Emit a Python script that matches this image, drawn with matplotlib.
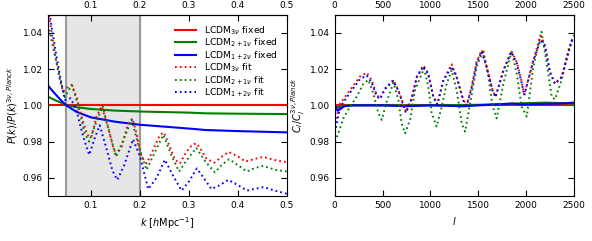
import numpy as np
import matplotlib.pyplot as plt

# --- linkes Panel: P(k) Verhaeltnis ---
k_fix_gruen = [0.012, 0.03, 0.05, 0.07, 0.1, 0.149, 0.2, 0.3, 0.334, 0.4, 0.5]
pk_fix_gruen = [1.0048, 1.0025, 1.0003, 0.999, 0.998, 0.9971, 0.9966, 0.996, 0.9956, 0.9954, 0.9952]
k_fix_blau = [0.012, 0.02, 0.03, 0.04, 0.05, 0.07, 0.1, 0.149, 0.2, 0.3, 0.334, 0.4, 0.5]
pk_fix_blau = [1.0112, 1.0085, 1.0055, 1.0025, 1.0, 0.9965, 0.9934, 0.991, 0.9893, 0.9872, 0.9864, 0.9858, 0.9851]

k_fit_rot = [0.012, 0.015, 0.0265, 0.0367, 0.0435, 0.05, 0.0605, 0.0707, 0.081, 0.0925, 0.101,
             0.1116, 0.122, 0.135, 0.1456, 0.152, 0.1626, 0.176, 0.185, 0.193, 0.203, 0.2136,
             0.227, 0.2408, 0.249, 0.261, 0.2714, 0.2816, 0.2952, 0.3075, 0.316, 0.3224, 0.336,
             0.352, 0.3667, 0.381, 0.4007, 0.415, 0.4347, 0.452, 0.472, 0.5]
pk_fit_rot = [1.052, 1.049, 1.0286, 1.014, 1.0075, 1.0094, 1.0113, 1.0048, 0.9938, 0.9837, 0.9825,
              0.9938, 0.9995, 0.988, 0.977, 0.9727, 0.977, 0.990, 0.9928, 0.9846, 0.9717, 0.968,
              0.9754, 0.9837, 0.985, 0.9772, 0.970, 0.968, 0.9745, 0.9785, 0.979, 0.9765, 0.9705,
              0.9684, 0.9717, 0.9743, 0.9717, 0.969, 0.9705, 0.9716, 0.970, 0.9686]

k_fit_gruen = [0.012, 0.013, 0.0265, 0.04, 0.047, 0.055, 0.062, 0.075, 0.0866, 0.0966, 0.11,
               0.124, 0.138, 0.151, 0.165, 0.183, 0.198, 0.2136, 0.232, 0.2476, 0.265, 0.28,
               0.296, 0.315, 0.335, 0.353, 0.368, 0.382, 0.4, 0.418, 0.435, 0.452, 0.475, 0.5]
pk_fit_gruen = [1.047, 1.044, 1.0277, 1.0112, 1.0045, 1.0085, 1.011, 0.999, 0.985, 0.980, 0.990,
                0.9996, 0.985, 0.9717, 0.980, 0.992, 0.977, 0.9644, 0.975, 0.9837, 0.972, 0.9635,
                0.970, 0.9765, 0.9685, 0.963, 0.9675, 0.9703, 0.967, 0.9635, 0.9655, 0.9666, 0.9645, 0.9635]

k_fit_blau = [0.012, 0.016, 0.03, 0.04, 0.047, 0.0585, 0.07, 0.084, 0.0966, 0.108, 0.118, 0.132,
              0.144, 0.154, 0.168, 0.186, 0.2, 0.217, 0.234, 0.251, 0.268, 0.285, 0.3, 0.316,
              0.33, 0.346, 0.363, 0.38, 0.4, 0.418, 0.435, 0.452, 0.475, 0.5]
pk_fit_blau = [1.056, 1.05, 1.0268, 1.012, 1.003, 1.0039, 0.998, 0.983, 0.9727, 0.982, 0.989, 0.976,
               0.964, 0.9589, 0.967, 0.9813, 0.972, 0.9538, 0.960, 0.970, 0.961, 0.953, 0.958, 0.9652,
               0.960, 0.9538, 0.956, 0.9589, 0.956, 0.953, 0.954, 0.9549, 0.953, 0.9512]

# --- rechtes Panel: C_l Verhaeltnis ---
l_fix_gruen = [2, 50, 150, 500, 1000, 1500, 1800, 2000, 2200, 2400, 2500]
cl_fix_gruen = [0.999, 0.9993, 1.0, 1.0, 1.0, 1.0003, 1.0008, 1.0012, 1.0015, 1.0012, 1.001]
l_fix_blau = [2, 30, 60, 100, 200, 500, 750, 1000, 1350, 1500, 1700, 1850, 2000, 2200, 2350, 2500]
cl_fix_blau = [1.0, 0.997, 0.998, 0.9995, 1.0, 1.0, 0.9995, 1.0, 0.9995, 1.0, 1.0005, 1.001, 1.0005,
               1.0008, 1.001, 1.0015]

l_fit_rot = [2, 56, 160, 265, 334, 386, 439, 474, 526, 613, 665, 745, 804, 857, 926, 978, 1031,
             1072, 1135, 1222, 1274, 1344, 1379, 1431, 1483, 1535, 1588, 1650, 1680, 1762, 1845,
             1901, 1953, 1980, 2075, 2150, 2197, 2249, 2301, 2371, 2423, 2476, 2500]
cl_fit_rot = [0.990, 1.001, 1.0084, 1.016, 1.018, 1.014, 1.0057, 1.0039, 1.0094, 1.014, 1.0084,
              0.9965, 1.004, 1.0158, 1.022, 1.0176, 1.0048, 1.0007, 1.014, 1.0226, 1.0158, 1.003,
              1.0, 1.0103, 1.024, 1.0305, 1.0213, 1.0084, 1.0048, 1.0194, 1.030, 1.024, 1.013,
              1.0057, 1.025, 1.0385, 1.0332, 1.0185, 1.0121, 1.0158, 1.0259, 1.036, 1.0363]

l_fit_blau = [2, 56, 160, 265, 334, 386, 439, 474, 526, 613, 665, 745, 804, 857, 926, 978, 1031,
              1072, 1135, 1222, 1274, 1344, 1379, 1431, 1483, 1535, 1588, 1650, 1680, 1762, 1845,
              1901, 1953, 1980, 2075, 2150, 2197, 2249, 2301, 2371, 2423, 2476, 2500]
cl_fit_blau = [0.985, 0.999, 1.007, 1.0145, 1.0165, 1.0125, 1.005, 1.0035, 1.009, 1.0135, 1.008,
               0.9958, 1.0035, 1.0155, 1.0215, 1.017, 1.0045, 1.0005, 1.0135, 1.0215, 1.0155, 1.0025,
               0.9998, 1.01, 1.0235, 1.0295, 1.021, 1.008, 1.0045, 1.019, 1.0295, 1.0235, 1.0125,
               1.0055, 1.0245, 1.036, 1.0325, 1.018, 1.0118, 1.0155, 1.0255, 1.0355, 1.0358]

l_fit_gruen = [2, 38, 90, 160, 230, 300, 352, 404, 456, 491, 543, 613, 665, 700, 735, 787, 839,
               933, 978, 1013, 1065, 1118, 1170, 1222, 1274, 1327, 1362, 1414, 1483, 1553, 1605,
               1650, 1692, 1762, 1849, 1901, 1953, 2006, 2075, 2160, 2215, 2267, 2301, 2371, 2441, 2500]
cl_fit_gruen = [0.980, 0.9846, 0.9928, 0.9993, 1.0048, 1.012, 1.014, 1.0066, 0.9956, 0.992, 1.002,
                1.0125, 1.003, 0.990, 0.9846, 0.992, 1.0084, 1.0204, 1.0103, 0.9956, 0.9883, 0.9993,
                1.012, 1.0194, 1.0084, 0.990, 0.9855, 1.0011, 1.0213, 1.0308, 1.0158, 0.9993, 0.9928,
                1.012, 1.030, 1.0176, 0.9993, 0.9938, 1.0213, 1.0406, 1.0231, 1.0048, 1.0033, 1.014,
                1.0305, 1.0387]

namen = [r"LCDM$_{3\nu}$", r"LCDM$_{2+1\nu}$", r"LCDM$_{1+2\nu}$"]

plt.rcParams['font.size'] = 6.5
plt.rcParams['mathtext.fontset'] = 'dejavusans'
plt.rcParams['xtick.direction'] = 'in'
plt.rcParams['ytick.direction'] = 'in'
plt.rcParams['ytick.right'] = True
plt.rcParams['xtick.major.size'] = 4
plt.rcParams['ytick.major.size'] = 4

fig = plt.figure(figsize=(5.92, 2.41), dpi=100)
ax1 = fig.add_axes([0.0806, 0.1867, 0.4042, 0.7523])
ax2 = fig.add_axes([0.5654, 0.1867, 0.4042, 0.7523])

lw_fix = 1.5
lw_fit = 1.4
punkte = (0, (0.9, 1.6))

# linkes Panel
ax1.axvspan(0.05, 0.2, color='#e6e6e6', zorder=0)
ax1.axvline(0.05, color='#999999', lw=1.5, zorder=1)
ax1.axvline(0.2, color='#999999', lw=1.5, zorder=1)
ax1.axhline(1.0, color='r', lw=lw_fix, label=namen[0] + " fixed")
ax1.plot(k_fix_gruen, pk_fix_gruen, color='g', lw=lw_fix, label=namen[1] + " fixed")
ax1.plot(k_fix_blau, pk_fix_blau, color='b', lw=lw_fix, label=namen[2] + " fixed")
ax1.plot(k_fit_rot, pk_fit_rot, color='r', ls=punkte, lw=lw_fit, label=namen[0] + " fit")
ax1.plot(k_fit_gruen, pk_fit_gruen, color='g', ls=punkte, lw=lw_fit, label=namen[1] + " fit")
ax1.plot(k_fit_blau, pk_fit_blau, color='b', ls=punkte, lw=lw_fit, label=namen[2] + " fit")
ax1.set_xlim(0.012, 0.5)
ax1.set_ylim(0.95, 1.05)
ax1.set_xticks([0.1, 0.2, 0.3, 0.4, 0.5])
ax1.set_yticks([0.96, 0.98, 1.00, 1.02, 1.04])
ax1.set_xlabel(r"$k$ [$h$Mpc$^{-1}$]", fontsize=7)
ax1.set_ylabel(r"$P(k)/P(k)^{3\nu,Planck}$", fontsize=7, labelpad=2)
ax1.legend(loc='upper right', frameon=False, fontsize=6.7, handlelength=2.3,
           labelspacing=0.0, borderaxespad=0.6, handletextpad=0.8)

# rechtes Panel
ax2.axhline(1.0, color='r', lw=lw_fix)
ax2.plot(l_fix_gruen, cl_fix_gruen, color='g', lw=lw_fix)
ax2.plot(l_fix_blau, cl_fix_blau, color='b', lw=lw_fix)
ax2.plot(l_fit_gruen, cl_fit_gruen, color='g', ls=punkte, lw=lw_fit)
ax2.plot(l_fit_rot, cl_fit_rot, color='r', ls=punkte, lw=lw_fit)
ax2.plot(l_fit_blau, cl_fit_blau, color='b', ls=punkte, lw=lw_fit)
ax2.set_xlim(0, 2500)
ax2.set_ylim(0.95, 1.05)
ax2.set_xticks([0, 500, 1000, 1500, 2000, 2500])
ax2.set_yticks([0.96, 0.98, 1.00, 1.02, 1.04])
ax2.set_xlabel(r"$l$", fontsize=7)
ax2.set_ylabel(r"$C_l/C_l^{3\nu,Planck}$", fontsize=7, labelpad=2)

for ax in (ax1, ax2):
    oben = ax.secondary_xaxis('top')
    oben.set_xticks(ax.get_xticks())
    oben.tick_params(direction='in', length=4, labelsize=6.5)
    ax.tick_params(labelsize=6.5)

fig.savefig("out.png", dpi=100)
